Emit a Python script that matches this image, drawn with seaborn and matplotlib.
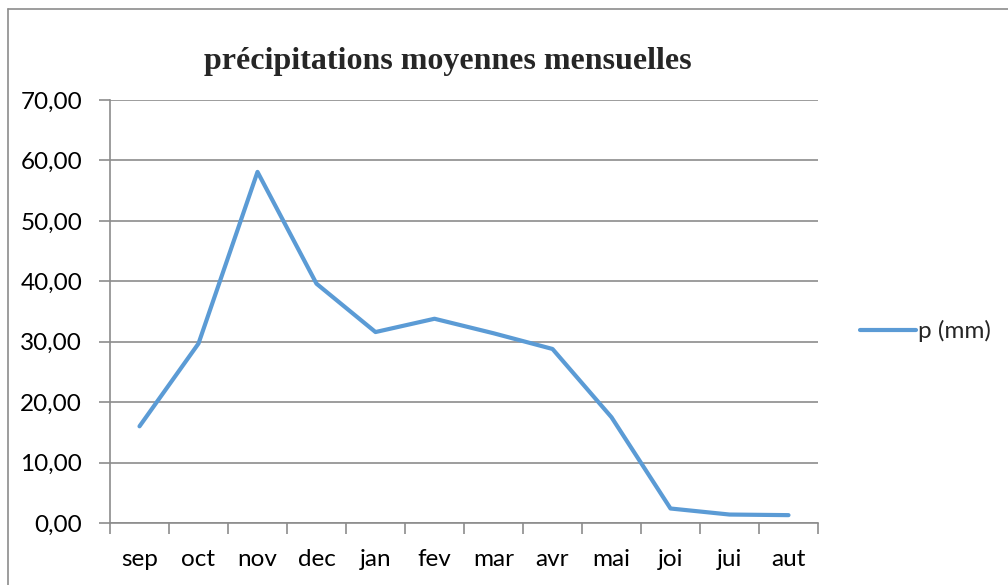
import matplotlib
matplotlib.use("Agg")
import matplotlib.pyplot as plt
import seaborn as sns
import pandas as pd
from matplotlib.lines import Line2D
from matplotlib.ticker import FixedLocator, FuncFormatter

months = ["sep", "oct", "nov", "dec", "jan", "fev", "mar", "avr", "mai", "joi", "jui", "aut"]
precip = [16.0, 29.7, 58.1, 39.6, 31.6, 33.8, 31.4, 28.8, 17.5, 2.4, 1.4, 1.3]
series_name = "p (mm)"
title = "précipitations moyennes mensuelles"
y_ticks = [0, 10, 20, 30, 40, 50, 60, 70]

sns.set_theme(style="white")
plt.rcParams["font.family"] = ["Lato", "DejaVu Sans"]

df = pd.DataFrame({"mois": months, "p": precip})
df["pos"] = range(len(months))

fig = plt.figure(figsize=(10.08, 5.85), dpi=100)
ax = fig.add_axes([110 / 1008, 1 - 523 / 585, (818 - 110) / 1008, (523 - 100) / 585])

color = "#5B9BD5"
sns.lineplot(data=df, x="pos", y="p", ax=ax, color=color, linewidth=3, sort=False)

ax.set_xlim(-0.5, len(months) - 0.5)
ax.set_ylim(0, 70)
ax.set_yticks(y_ticks)
ax.yaxis.set_major_formatter(FuncFormatter(lambda v, p: f"{v:.2f}".replace(".", ",")))
ax.set_xticks(range(len(months)))
ax.set_xticklabels(months)
ax.xaxis.set_minor_locator(FixedLocator([i - 0.5 for i in range(len(months) + 1)]))
ax.tick_params(axis="x", which="major", length=0, pad=19, labelsize=17.5, colors="black")
ax.tick_params(axis="x", which="minor", length=8, width=1.2, color="#8c8c8c", bottom=True)
ax.tick_params(axis="y", which="major", length=8, width=1.2, color="#8c8c8c", left=True,
               labelsize=17.5, pad=12, labelcolor="black")
ax.set_xlabel("")
ax.set_ylabel("")

ax.grid(axis="y", color="#8c8c8c", linewidth=1.2)
ax.grid(axis="x", visible=False)
for side in ["top", "right"]:
    ax.spines[side].set_visible(False)
for side in ["left", "bottom"]:
    ax.spines[side].set_color("#8c8c8c")
    ax.spines[side].set_linewidth(1.2)
ax.set_axisbelow(True)

fig.text(448 / 1008, 1 - 62 / 585, title, ha="center", va="center",
         fontsize=23, fontweight="bold", family=["Liberation Serif", "DejaVu Serif"])

handle = Line2D([], [], color=color, linewidth=3)
fig.legend([handle], [series_name], loc="center left", bbox_to_anchor=(848 / 1008, 1 - 331 / 585),
           frameon=False, fontsize=17.5, handlelength=2.3, handletextpad=0.1, borderpad=0)

# outer chart border (top and left edges visible)
fig.add_artist(Line2D([8 / 1008, 8 / 1008], [0, 1 - 9 / 585], transform=fig.transFigure,
                      color="#8c8c8c", linewidth=1.2))
fig.add_artist(Line2D([8 / 1008, 1], [1 - 9 / 585, 1 - 9 / 585], transform=fig.transFigure,
                      color="#8c8c8c", linewidth=1.2))

fig.savefig("out.png", dpi=100)
